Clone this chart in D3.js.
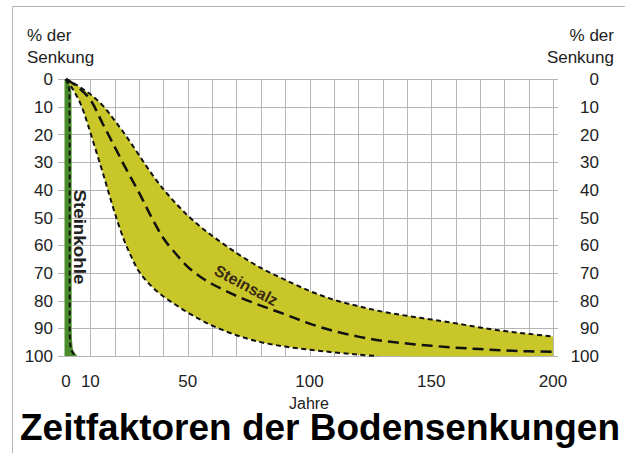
<!DOCTYPE html>
<html>
<head>
<meta charset="utf-8">
<script src="https://cdn.jsdelivr.net/npm/d3@7"></script>
<style>
  body { margin: 0; background: #fff; }
  svg { display: block; font-family: "Liberation Sans", Arial, sans-serif; }
</style>
</head>
<body>
<div id="chart"></div>
<script>
// Steinsalz band: slow (upper) edge, mean and fast (lower) edge, % der Senkung vs. Jahre
var slowYears = [0, 5, 10, 15, 20, 25, 30, 35, 40, 45, 50, 55, 60, 70, 80, 90, 100, 110, 120, 130, 140, 150, 160, 170, 180, 190, 200];
var slowVals  = [0, 2.5, 5.5, 9.5, 15, 21, 27.5, 34, 39.8, 44.8, 49.3, 53.2, 56.6, 62.8, 68.2, 72.5, 76.5, 79.7, 82, 84, 85.5, 86.8, 88.2, 89.7, 91, 92, 93];

var meanYears = [0, 5, 10, 15, 20, 25, 30, 35, 40, 45, 50, 55, 60, 70, 80, 90, 100, 110, 120, 130, 140, 150, 160, 170, 180, 190, 200];
var meanVals  = [0, 3, 7.5, 16, 24.5, 33, 41, 49.7, 57.5, 63, 67.8, 71.3, 74, 78.3, 81.8, 85, 88.3, 91, 93, 94.5, 95.5, 96.3, 97, 97.5, 98, 98.3, 98.5];

var fastYears = [0, 3, 6, 9, 12, 15, 18, 21, 24, 27, 30, 35, 40, 45, 50, 55, 60, 70, 80, 90, 100, 110, 120, 128];
var fastVals  = [0, 4, 9, 16.5, 25, 33.5, 42.5, 51, 58.5, 64.5, 69.5, 74.7, 78.5, 81.5, 84.3, 86.8, 89, 92.5, 95, 96.6, 97.7, 98.7, 99.5, 100];

// Steinkohle: nearly immediate settlement
var kohleYears = [0, 1.4, 1.5, 1.5, 1.5, 1.9, 3.8];
var kohleVals  = [0, 5, 30, 60, 90, 97, 100];

var xTicks = [0, 10, 50, 100, 150, 200];
var yTicks = [0, 10, 20, 30, 40, 50, 60, 70, 80, 90, 100];
var xGrid = d3.range(0, 201, 10);

var width = 625, height = 453;
var svg = d3.select("#chart").append("svg")
  .attr("width", width)
  .attr("height", height);

svg.append("rect").attr("width", width).attr("height", height).attr("fill", "#fff");

// outer frame (left + top edge only visible)
svg.append("path")
  .attr("d", "M12.5,453V6.5H625")
  .attr("fill", "none")
  .attr("stroke", "#b4b4b4")
  .attr("stroke-width", 1);

var x = d3.scaleLinear().domain([0, 200]).range([66, 553]);
var y = d3.scaleLinear().domain([0, 100]).range([79, 356]);

function pts(xs, ys) {
  return xs.map(function(d, i) { return [d, ys[i]]; });
}
var slow = pts(slowYears, slowVals),
    mean = pts(meanYears, meanVals),
    fast = pts(fastYears, fastVals),
    kohle = pts(kohleYears, kohleVals);

// grid
var grid = svg.append("g").attr("stroke", "#b5b5b5").attr("stroke-width", 1);
grid.selectAll(".h").data(yTicks).enter().append("line")
  .attr("x1", x(0) - 8).attr("x2", x(200) + 5)
  .attr("y1", function(d) { return Math.round(y(d)) + 0.5; })
  .attr("y2", function(d) { return Math.round(y(d)) + 0.5; });
grid.selectAll(".v").data(xGrid).enter().append("line")
  .attr("y1", y(0)).attr("y2", y(100) + 1)
  .attr("x1", function(d) { return Math.round(x(d)) + 0.5; })
  .attr("x2", function(d) { return Math.round(x(d)) + 0.5; });

var line = d3.line()
  .x(function(d) { return x(d[0]); })
  .y(function(d) { return y(d[1]); })
  .curve(d3.curveCatmullRom.alpha(0.5));

// band fill between slow and fast edges
var lowerEdge = fast.concat([[200, 100]]).reverse();
var bandPath = line(slow) + "L" + line(lowerEdge).slice(1) + "Z";
svg.append("path")
  .attr("d", bandPath)
  .attr("fill", "#c9c62a");

// Steinkohle green bar
var kohleArea = d3.area()
  .y(function(d) { return y(d[1]); })
  .x0(x(0) - 1.5)
  .x1(function(d) { return x(d[0]) + 2; })
  .curve(d3.curveMonotoneY);
svg.append("path")
  .attr("d", kohleArea(kohle))
  .attr("fill", "#4a8c2a");

var kohleLine = d3.line()
  .x(function(d) { return x(d[0]); })
  .y(function(d) { return y(d[1]); })
  .curve(d3.curveMonotoneY);
svg.append("path")
  .attr("d", kohleLine(kohle))
  .attr("fill", "none")
  .attr("stroke", "#111")
  .attr("stroke-width", 2)
  .attr("stroke-dasharray", "5,3");

// Steinsalz dashed edges and mean
[slow, fast].forEach(function(s) {
  svg.append("path")
    .attr("d", line(s))
    .attr("fill", "none")
    .attr("stroke", "#111")
    .attr("stroke-width", 2)
    .attr("stroke-dasharray", "5,3.5");
});
svg.append("path")
  .attr("d", line(mean))
  .attr("fill", "none")
  .attr("stroke", "#111")
  .attr("stroke-width", 2.5)
  .attr("stroke-dasharray", "11,6");

// curve labels
svg.append("text")
  .attr("transform", "translate(" + (x(5.6)) + "," + y(57) + ") rotate(90)")
  .attr("text-anchor", "middle")
  .attr("dy", "0.35em")
  .attr("font-size", 16)
  .attr("font-weight", "bold")
  .attr("fill", "#222")
  .attr("textLength", 95)
  .attr("lengthAdjust", "spacingAndGlyphs")
  .text("Steinkohle");

svg.append("text")
  .attr("transform", "translate(" + x(74) + "," + y(74.5) + ") rotate(28)")
  .attr("text-anchor", "middle")
  .attr("dy", "0.35em")
  .attr("font-size", 16)
  .attr("font-weight", "bold")
  .attr("fill", "#3b2a12")
  .text("Steinsalz");

// axis labels
var tickFont = 17;
svg.append("g").selectAll("text").data(yTicks).enter().append("text")
  .attr("x", 53)
  .attr("y", function(d) { return y(d); })
  .attr("dy", "0.36em")
  .attr("text-anchor", "end")
  .attr("font-size", tickFont)
  .attr("fill", "#222")
  .text(function(d) { return d; });

svg.append("g").selectAll("text").data(yTicks).enter().append("text")
  .attr("x", 599)
  .attr("y", function(d) { return y(d); })
  .attr("dy", "0.36em")
  .attr("text-anchor", "end")
  .attr("font-size", tickFont)
  .attr("fill", "#222")
  .text(function(d) { return d; });

svg.append("g").selectAll("text").data(xTicks).enter().append("text")
  .attr("x", function(d) { return x(d); })
  .attr("y", 387)
  .attr("text-anchor", "middle")
  .attr("font-size", tickFont)
  .attr("fill", "#222")
  .text(function(d) { return d; });

[["% der", 41], ["Senkung", 63]].forEach(function(t) {
  svg.append("text").attr("x", 27).attr("y", t[1])
    .attr("font-size", tickFont).attr("fill", "#222").text(t[0]);
  svg.append("text").attr("x", 614).attr("y", t[1])
    .attr("text-anchor", "end")
    .attr("font-size", tickFont).attr("fill", "#222").text(t[0]);
});

svg.append("text")
  .attr("x", 309).attr("y", 409)
  .attr("text-anchor", "middle")
  .attr("font-size", 16)
  .attr("fill", "#222")
  .text("Jahre");

svg.append("text")
  .attr("x", 20).attr("y", 440)
  .attr("font-size", 37)
  .attr("font-weight", "bold")
  .attr("fill", "#000")
  .attr("textLength", 600)
  .attr("lengthAdjust", "spacingAndGlyphs")
  .text("Zeitfaktoren der Bodensenkungen");
</script>
</body>
</html>
